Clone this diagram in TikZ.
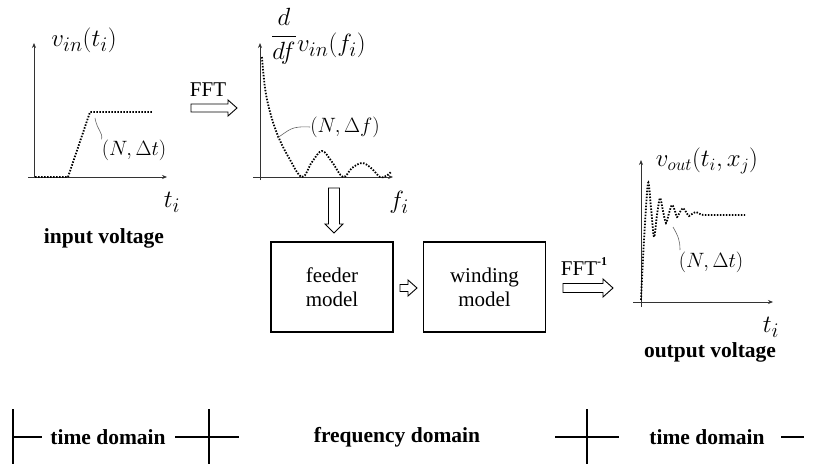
\documentclass[tikz,border=0pt]{standalone}
\usepackage{fontspec}
\IfFontExistsTF{LiberationSerif-Regular.ttf}{%
  \setmainfont{LiberationSerif}[Extension=.ttf,UprightFont=*-Regular,BoldFont=*-Bold,ItalicFont=*-Italic,BoldItalicFont=*-BoldItalic]}{%
  \setmainfont{Liberation Serif}}
\usetikzlibrary{arrows.meta}
\tikzset{
  axis/.style={draw=black!80,line width=0.7pt,-{Stealth[length=5pt,width=4pt]}},
  dotcurve/.style={line width=1.8pt,dash pattern=on 1.5pt off 1.5pt},
  callout/.style={draw=black!60,line width=0.6pt},
  harrow/.style={draw,line width=0.9pt,line join=miter,fill=white},
  modelbox/.style={draw,line width=1.4pt,minimum width=122pt,minimum height=90pt,align=center,font=\fontsize{21}{24}\selectfont},
  txt/.style={font=\fontsize{21}{24}\selectfont,inner sep=0pt},
  btxt/.style={font=\fontsize{21.5}{24}\selectfont\bfseries,inner sep=0pt},
  mlab/.style={font=\fontsize{29}{32}\selectfont,inner sep=0pt},
  slab/.style={font=\fontsize{22.5}{26}\selectfont,inner sep=0pt},
  domline/.style={line width=1.3pt}
}
\begin{document}
\begin{tikzpicture}[x=1pt,y=-1pt]
\useasboundingbox (0,0) rectangle (814,468);
% ---------- left plot ----------
\draw[axis] (34,178) -- (34,43);
\draw[axis] (28,177) -- (167,177);
\draw[dotcurve] (35,177) -- (68,177) -- (90,112) -- (152,112);
\node[mlab] (vin) at (84,40) {$v_{in}(t_i)$};
\node[mlab] (ti1) at (172,202) {$t_i$};
\node[slab] (nt1) at (134,150) {$(N,\Delta t)$};
\coordinate (c1) at (95,118);
\draw[callout] (c1) .. controls (97,130) and (103,132) .. (nt1.north west);
\node[btxt] (inv) at (104,238) {input voltage};
% FFT arrow
\node[txt] (fft) at (208,90) {FFT};
\draw[harrow] (191,104) -- (228,104) -- (228,100) -- (237,108) -- (228,116) -- (228,112) -- (191,112) -- cycle;
% ---------- middle plot ----------
\draw[axis] (260,180) -- (260,43);
\draw[axis] (253,177) -- (393,177);
\draw[dotcurve] plot[smooth,tension=0.6] coordinates {(262,57) (265,88) (270,112) (278,136) (289,158) (302,177) (312,162) (322,151) (332,162) (343,177) (352,168) (362,163) (371,168) (380,177) (386,176) (391,172)};
\node[mlab] (dfrac) at (284,36) {$\displaystyle\frac{d}{df}$};
\node[mlab,anchor=west] (vinf) at (297,45) {$v_{in}(f_i)$};
\node[mlab] (fi) at (399,202) {$f_i$};
\node[slab] (nf) at (345,127) {$(N,\Delta f)$};
\coordinate (c2) at (277,138);
\draw[callout] (c2) .. controls (290,130) and (290,126) .. (nf.west);
% down arrow
\draw[harrow] (328.5,188) -- (339.5,188) -- (339.5,224) -- (343,224) -- (334,233) -- (325,224) -- (328.5,224) -- cycle;
% ---------- boxes ----------
\node[modelbox] (feed) at (332,287) {feeder\\model};
\node[modelbox] (wind) at (484.5,287) {winding\\model};
\draw[harrow] (400,284.5) -- (408,284.5) -- (408,280) -- (417,288) -- (408,296) -- (408,291.5) -- (400,291.5) -- cycle;
\node[txt] (ffti) at (584,267) {FFT\raisebox{10pt}{\fontsize{12}{12}\selectfont\bfseries -1}};
\draw[harrow] (563,283.5) -- (603,283.5) -- (603,279) -- (613,288) -- (603,297) -- (603,292.5) -- (563,292.5) -- cycle;
% ---------- right plot ----------
\draw[axis] (641,307) -- (641,160);
\draw[axis] (633,302) -- (773,302);
\draw[dotcurve] plot[smooth,tension=0.5] coordinates {(641,300) (644,240) (648,183) (651,208) (654,237) (657,215) (660,198) (663,211) (666,223) (669,213) (672,205) (675,211) (677,217) (680,212) (683,208) (686,212) (689,216) (692,214) (696,212) (700,214) (706,215) (745,215)};
\node[mlab,font=\fontsize{26}{30}\selectfont] (vout) at (707,161) {$v_{out}(t_i,x_j)$};
\node[mlab] (ti2) at (771,327) {$t_i$};
\node[slab] (nt2) at (711,262) {$(N,\Delta t)$};
\coordinate (c3) at (673,227);
\draw[callout] (c3) .. controls (678,236) and (680,240) .. (680,250);
\node[btxt] (outv) at (710,352) {output voltage};
% ---------- domains ----------
\node[btxt] (td1) at (108,437) {time domain};
\node[btxt] (fd) at (397,437) {frequency domain};
\node[btxt] (td2) at (707,437) {time domain};
\coordinate (t1) at (13,437);
\draw[domline] (13,409) -- (13,464);
\draw[domline] (t1) -- (42,437);
\draw[domline] (175,437) -- (239,437);
\draw[domline] (209,409) -- (209,464);
\draw[domline] (555,437) -- (619,437);
\draw[domline] (587,409) -- (587,464);
\draw[domline] (781,437) -- (804,437);
\end{tikzpicture}
\end{document}
